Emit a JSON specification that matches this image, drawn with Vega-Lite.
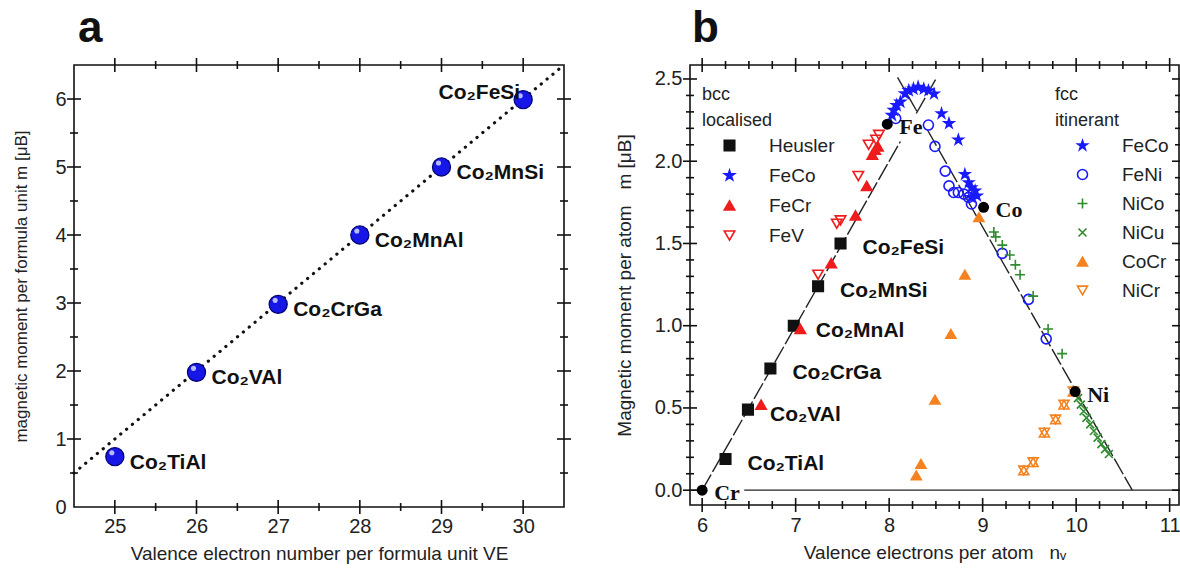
{
  "$schema": "https://vega.github.io/schema/vega-lite/v6.json",
  "background": "white",
  "padding": {"left": 12, "top": 6, "right": 2, "bottom": 2},
  "spacing": 42,
  "config": {
    "view": {"stroke": "#111", "strokeWidth": 1.6},
    "axis": {"domain": false, "grid": false, "ticks": false, "labelFont": "Liberation Sans", "titleFont": "Liberation Sans", "labelColor": "#222", "titleColor": "#222", "labelFontSize": 20, "titleFontSize": 19, "titleFontWeight": "normal", "labelOverlap": false, "labelFlush": false},
    "text": {"font": "Liberation Sans"},
    "title": {"font": "Liberation Sans"}
  },
  "datasets": {
    "ticksAx": [
      {"v": 25, "kind": "major"}, {"v": 25.5, "kind": "minor"}, {"v": 26, "kind": "major"}, {"v": 26.5, "kind": "minor"},
      {"v": 27, "kind": "major"}, {"v": 27.5, "kind": "minor"}, {"v": 28, "kind": "major"}, {"v": 28.5, "kind": "minor"},
      {"v": 29, "kind": "major"}, {"v": 29.5, "kind": "minor"}, {"v": 30, "kind": "major"}
    ],
    "ticksAy": [
      {"v": 0.5, "kind": "minor"}, {"v": 1, "kind": "major"}, {"v": 1.5, "kind": "minor"}, {"v": 2, "kind": "major"},
      {"v": 2.5, "kind": "minor"}, {"v": 3, "kind": "major"}, {"v": 3.5, "kind": "minor"}, {"v": 4, "kind": "major"},
      {"v": 4.5, "kind": "minor"}, {"v": 5, "kind": "major"}, {"v": 5.5, "kind": "minor"}, {"v": 6, "kind": "major"}
    ],
    "ticksBx": [
      {"v": 6, "kind": "major"}, {"v": 6.25, "kind": "minor"}, {"v": 6.5, "kind": "minor"}, {"v": 6.75, "kind": "minor"},
      {"v": 7, "kind": "major"}, {"v": 7.25, "kind": "minor"}, {"v": 7.5, "kind": "minor"}, {"v": 7.75, "kind": "minor"},
      {"v": 8, "kind": "major"}, {"v": 8.25, "kind": "minor"}, {"v": 8.5, "kind": "minor"}, {"v": 8.75, "kind": "minor"},
      {"v": 9, "kind": "major"}, {"v": 9.25, "kind": "minor"}, {"v": 9.5, "kind": "minor"}, {"v": 9.75, "kind": "minor"},
      {"v": 10, "kind": "major"}, {"v": 10.25, "kind": "minor"}, {"v": 10.5, "kind": "minor"}, {"v": 10.75, "kind": "minor"},
      {"v": 11, "kind": "major"}
    ],
    "ticksBy": [
      {"v": 0, "kind": "major"}, {"v": 0.1, "kind": "minor"}, {"v": 0.2, "kind": "minor"}, {"v": 0.3, "kind": "minor"}, {"v": 0.4, "kind": "minor"},
      {"v": 0.5, "kind": "major"}, {"v": 0.6, "kind": "minor"}, {"v": 0.7, "kind": "minor"}, {"v": 0.8, "kind": "minor"}, {"v": 0.9, "kind": "minor"},
      {"v": 1.0, "kind": "major"}, {"v": 1.1, "kind": "minor"}, {"v": 1.2, "kind": "minor"}, {"v": 1.3, "kind": "minor"}, {"v": 1.4, "kind": "minor"},
      {"v": 1.5, "kind": "major"}, {"v": 1.6, "kind": "minor"}, {"v": 1.7, "kind": "minor"}, {"v": 1.8, "kind": "minor"}, {"v": 1.9, "kind": "minor"},
      {"v": 2.0, "kind": "major"}, {"v": 2.1, "kind": "minor"}, {"v": 2.2, "kind": "minor"}, {"v": 2.3, "kind": "minor"}, {"v": 2.4, "kind": "minor"},
      {"v": 2.5, "kind": "major"}
    ],
    "heuslerA": [
      {"VE": 25, "m": 0.74, "compound": "Co₂TiAl"},
      {"VE": 26, "m": 1.98, "compound": "Co₂VAl"},
      {"VE": 27, "m": 2.98, "compound": "Co₂CrGa"},
      {"VE": 28, "m": 4.0, "compound": "Co₂MnAl"},
      {"VE": 29, "m": 5.0, "compound": "Co₂MnSi"},
      {"VE": 30, "m": 5.99, "compound": "Co₂FeSi"}
    ],
    "slaterA": [{"VE": 24.5, "m": 0.5}, {"VE": 30.5, "m": 6.5}],
    "linesB": [
      {"seg": "Z1", "kind": "zero", "nv": 5.87, "m": 0},
      {"seg": "Z1", "kind": "zero", "nv": 5.99, "m": 0},
      {"seg": "Z2", "kind": "zero", "nv": 6.45, "m": 0},
      {"seg": "Z2", "kind": "zero", "nv": 11.1, "m": 0},
      {"seg": "L1", "kind": "sp", "nv": 6.0, "m": 0.0},
      {"seg": "L1", "kind": "sp", "nv": 8.12, "m": 2.12},
      {"seg": "L2", "kind": "sp", "nv": 8.29, "m": 2.29},
      {"seg": "L2", "kind": "sp", "nv": 8.5, "m": 2.5},
      {"seg": "R1", "kind": "sp", "nv": 8.41, "m": 2.19},
      {"seg": "R1", "kind": "sp", "nv": 10.6, "m": 0.0},
      {"seg": "R2", "kind": "sp", "nv": 8.09, "m": 2.51},
      {"seg": "R2", "kind": "sp", "nv": 8.31, "m": 2.29}
    ],
    "elementsB": [
      {"el": "Cr", "nv": 6.0, "m": 0.0},
      {"el": "Fe", "nv": 7.98, "m": 2.225},
      {"el": "Co", "nv": 9.01, "m": 1.72},
      {"el": "Ni", "nv": 9.99, "m": 0.6}
    ],
    "pointsB": [
      {"phase": "bcc", "series": "Heusler", "nv": 6.25, "m": 0.19, "label": "Co₂TiAl"},
      {"phase": "bcc", "series": "Heusler", "nv": 6.49, "m": 0.49, "label": "Co₂VAl"},
      {"phase": "bcc", "series": "Heusler", "nv": 6.73, "m": 0.74, "label": "Co₂CrGa"},
      {"phase": "bcc", "series": "Heusler", "nv": 6.98, "m": 1.0, "label": "Co₂MnAl"},
      {"phase": "bcc", "series": "Heusler", "nv": 7.24, "m": 1.24, "label": "Co₂MnSi"},
      {"phase": "bcc", "series": "Heusler", "nv": 7.48, "m": 1.5, "label": "Co₂FeSi"},
      {"phase": "bcc", "series": "FeCo", "nv": 8.03, "m": 2.28},
      {"phase": "bcc", "series": "FeCo", "nv": 8.05, "m": 2.31},
      {"phase": "bcc", "series": "FeCo", "nv": 8.08, "m": 2.34},
      {"phase": "bcc", "series": "FeCo", "nv": 8.12, "m": 2.36},
      {"phase": "bcc", "series": "FeCo", "nv": 8.17, "m": 2.41},
      {"phase": "bcc", "series": "FeCo", "nv": 8.21, "m": 2.43},
      {"phase": "bcc", "series": "FeCo", "nv": 8.26, "m": 2.44},
      {"phase": "bcc", "series": "FeCo", "nv": 8.31, "m": 2.45},
      {"phase": "bcc", "series": "FeCr", "nv": 6.63, "m": 0.52},
      {"phase": "bcc", "series": "FeCr", "nv": 7.05, "m": 0.98},
      {"phase": "bcc", "series": "FeCr", "nv": 7.38, "m": 1.38},
      {"phase": "bcc", "series": "FeCr", "nv": 7.64, "m": 1.67},
      {"phase": "bcc", "series": "FeCr", "nv": 7.76, "m": 1.85},
      {"phase": "bcc", "series": "FeCr", "nv": 7.82, "m": 2.04},
      {"phase": "bcc", "series": "FeCr", "nv": 7.85, "m": 2.07},
      {"phase": "bcc", "series": "FeCr", "nv": 7.88, "m": 2.09},
      {"phase": "bcc", "series": "FeV", "nv": 7.24, "m": 1.31},
      {"phase": "bcc", "series": "FeV", "nv": 7.44, "m": 1.62},
      {"phase": "bcc", "series": "FeV", "nv": 7.48, "m": 1.64},
      {"phase": "bcc", "series": "FeV", "nv": 7.67, "m": 1.91},
      {"phase": "bcc", "series": "FeV", "nv": 7.78, "m": 2.1},
      {"phase": "bcc", "series": "FeV", "nv": 7.86, "m": 2.13},
      {"phase": "bcc", "series": "FeV", "nv": 7.89, "m": 2.16},
      {"phase": "fcc", "series": "FeCo", "nv": 8.37, "m": 2.44},
      {"phase": "fcc", "series": "FeCo", "nv": 8.42, "m": 2.43},
      {"phase": "fcc", "series": "FeCo", "nv": 8.48, "m": 2.41},
      {"phase": "fcc", "series": "FeCo", "nv": 8.56, "m": 2.29},
      {"phase": "fcc", "series": "FeCo", "nv": 8.64, "m": 2.23},
      {"phase": "fcc", "series": "FeCo", "nv": 8.74, "m": 2.13},
      {"phase": "fcc", "series": "FeCo", "nv": 8.81, "m": 1.92},
      {"phase": "fcc", "series": "FeCo", "nv": 8.85, "m": 1.87},
      {"phase": "fcc", "series": "FeCo", "nv": 8.88, "m": 1.84},
      {"phase": "fcc", "series": "FeCo", "nv": 8.92, "m": 1.82},
      {"phase": "fcc", "series": "FeCo", "nv": 8.88, "m": 1.78},
      {"phase": "fcc", "series": "FeCo", "nv": 8.94, "m": 1.79},
      {"phase": "fcc", "series": "FeNi", "nv": 8.07, "m": 2.26},
      {"phase": "fcc", "series": "FeNi", "nv": 8.42, "m": 2.22},
      {"phase": "fcc", "series": "FeNi", "nv": 8.49, "m": 2.09},
      {"phase": "fcc", "series": "FeNi", "nv": 8.6, "m": 1.94},
      {"phase": "fcc", "series": "FeNi", "nv": 8.64, "m": 1.85},
      {"phase": "fcc", "series": "FeNi", "nv": 8.69, "m": 1.81},
      {"phase": "fcc", "series": "FeNi", "nv": 8.74, "m": 1.81},
      {"phase": "fcc", "series": "FeNi", "nv": 8.8, "m": 1.8},
      {"phase": "fcc", "series": "FeNi", "nv": 8.85, "m": 1.78},
      {"phase": "fcc", "series": "FeNi", "nv": 8.88, "m": 1.74},
      {"phase": "fcc", "series": "FeNi", "nv": 9.21, "m": 1.44},
      {"phase": "fcc", "series": "FeNi", "nv": 9.49, "m": 1.16},
      {"phase": "fcc", "series": "FeNi", "nv": 9.68, "m": 0.92},
      {"phase": "fcc", "series": "NiCo", "nv": 9.12, "m": 1.57},
      {"phase": "fcc", "series": "NiCo", "nv": 9.14, "m": 1.54},
      {"phase": "fcc", "series": "NiCo", "nv": 9.21, "m": 1.49},
      {"phase": "fcc", "series": "NiCo", "nv": 9.29, "m": 1.43},
      {"phase": "fcc", "series": "NiCo", "nv": 9.35, "m": 1.37},
      {"phase": "fcc", "series": "NiCo", "nv": 9.4, "m": 1.31},
      {"phase": "fcc", "series": "NiCo", "nv": 9.54, "m": 1.18},
      {"phase": "fcc", "series": "NiCo", "nv": 9.7, "m": 0.98},
      {"phase": "fcc", "series": "NiCo", "nv": 9.85, "m": 0.83},
      {"phase": "fcc", "series": "NiCu", "nv": 10.02, "m": 0.56},
      {"phase": "fcc", "series": "NiCu", "nv": 10.05, "m": 0.52},
      {"phase": "fcc", "series": "NiCu", "nv": 10.08, "m": 0.48},
      {"phase": "fcc", "series": "NiCu", "nv": 10.11, "m": 0.44},
      {"phase": "fcc", "series": "NiCu", "nv": 10.15, "m": 0.4},
      {"phase": "fcc", "series": "NiCu", "nv": 10.19, "m": 0.36},
      {"phase": "fcc", "series": "NiCu", "nv": 10.23, "m": 0.32},
      {"phase": "fcc", "series": "NiCu", "nv": 10.27, "m": 0.28},
      {"phase": "fcc", "series": "NiCu", "nv": 10.31, "m": 0.25},
      {"phase": "fcc", "series": "NiCu", "nv": 10.35, "m": 0.22},
      {"phase": "fcc", "series": "CoCr", "nv": 8.29, "m": 0.09},
      {"phase": "fcc", "series": "CoCr", "nv": 8.34, "m": 0.16},
      {"phase": "fcc", "series": "CoCr", "nv": 8.49, "m": 0.55},
      {"phase": "fcc", "series": "CoCr", "nv": 8.66, "m": 0.95},
      {"phase": "fcc", "series": "CoCr", "nv": 8.81, "m": 1.31},
      {"phase": "fcc", "series": "CoCr", "nv": 8.96, "m": 1.66},
      {"phase": "fcc", "series": "NiCr", "nv": 9.44, "m": 0.12},
      {"phase": "fcc", "series": "NiCr", "nv": 9.54, "m": 0.17},
      {"phase": "fcc", "series": "NiCr", "nv": 9.66, "m": 0.35},
      {"phase": "fcc", "series": "NiCr", "nv": 9.78, "m": 0.43},
      {"phase": "fcc", "series": "NiCr", "nv": 9.87, "m": 0.52},
      {"phase": "fcc", "series": "NiCr", "nv": 9.97, "m": 0.6}
    ]
  },
  "resolve": {"scale": {"x": "independent", "y": "independent"}},
  "hconcat": [
    {
      "width": 490,
      "height": 442,
      "title": {"text": "a", "anchor": "start", "frame": "group", "fontSize": 44, "fontWeight": "bold", "color": "#111", "dx": 4, "offset": 7},
      "resolve": {"axis": {"x": "independent", "y": "independent"}},
      "layer": [
        {
          "data": {"name": "slaterA"},
          "mark": {"type": "line", "color": "#111", "strokeWidth": 3.2, "strokeDash": [0.1, 7.5], "strokeCap": "round"},
          "encoding": {
            "x": {"field": "VE", "type": "quantitative", "scale": {"domain": [24.5, 30.5], "nice": false, "zero": false}, "axis": null},
            "y": {"field": "m", "type": "quantitative", "scale": {"domain": [0, 6.5], "nice": false, "zero": false}, "axis": null}
          }
        },
        {
          "data": {"name": "heuslerA"},
          "mark": {"type": "point", "filled": true, "opacity": 1, "size": 330, "fill": "#1616e6", "stroke": "#00006e", "strokeWidth": 1.2},
          "encoding": {
            "x": {"field": "VE", "type": "quantitative", "scale": {"domain": [24.5, 30.5], "nice": false, "zero": false},
                  "axis": {"orient": "bottom", "values": [25, 26, 27, 28, 29, 30], "format": "d", "labelPadding": 9, "title": "Valence electron number per formula unit VE", "titlePadding": 8}},
            "y": {"field": "m", "type": "quantitative", "scale": {"domain": [0, 6.5], "nice": false, "zero": false},
                  "axis": {"orient": "left", "values": [0, 1, 2, 3, 4, 5, 6], "format": "d", "labelPadding": 8, "title": "magnetic moment per formula unit m [μB]", "titleFontSize": 17, "titlePadding": 24}}
          }
        },
        {
          "data": {"name": "heuslerA"},
          "mark": {"type": "point", "filled": true, "opacity": 0.8, "size": 26, "color": "#dfe6ff", "xOffset": -3, "yOffset": -4},
          "encoding": {
            "x": {"field": "VE", "type": "quantitative", "axis": null},
            "y": {"field": "m", "type": "quantitative", "axis": null}
          }
        },
        {
          "data": {"name": "heuslerA"},
          "transform": [{"filter": "datum.VE < 30"}],
          "mark": {"type": "text", "align": "left", "baseline": "middle", "dx": 15, "dy": 6, "fontSize": 21, "fontWeight": "bold", "color": "#111"},
          "encoding": {
            "x": {"field": "VE", "type": "quantitative", "axis": null},
            "y": {"field": "m", "type": "quantitative", "axis": null},
            "text": {"field": "compound"}
          }
        },
        {
          "data": {"name": "heuslerA"},
          "transform": [{"filter": "datum.VE >= 30"}],
          "mark": {"type": "text", "align": "right", "baseline": "middle", "dx": -3, "dy": -7, "fontSize": 21, "fontWeight": "bold", "color": "#111"},
          "encoding": {
            "x": {"field": "VE", "type": "quantitative", "axis": null},
            "y": {"field": "m", "type": "quantitative", "axis": null},
            "text": {"field": "compound"}
          }
        },
        {
          "data": {"name": "ticksAx"},
          "mark": {"type": "tick", "orient": "vertical", "thickness": 1.6, "color": "#111", "opacity": 1},
          "encoding": {
            "x": {"field": "v", "type": "quantitative", "axis": null},
            "y": {"datum": 0, "type": "quantitative", "axis": null},
            "size": {"field": "kind", "type": "nominal", "scale": {"domain": ["major", "minor"], "range": [14, 8]}, "legend": null}
          }
        },
        {
          "data": {"name": "ticksAx"},
          "mark": {"type": "tick", "orient": "vertical", "thickness": 1.6, "color": "#111", "opacity": 1},
          "encoding": {
            "x": {"field": "v", "type": "quantitative", "axis": null},
            "y": {"datum": 6.5, "type": "quantitative", "axis": null},
            "size": {"field": "kind", "type": "nominal", "scale": {"domain": ["major", "minor"], "range": [14, 8]}, "legend": null}
          }
        },
        {
          "data": {"name": "ticksAy"},
          "mark": {"type": "tick", "orient": "horizontal", "thickness": 1.6, "color": "#111", "opacity": 1},
          "encoding": {
            "y": {"field": "v", "type": "quantitative", "axis": null},
            "x": {"datum": 24.5, "type": "quantitative", "axis": null},
            "size": {"field": "kind", "type": "nominal", "scale": {"domain": ["major", "minor"], "range": [14, 8]}, "legend": null}
          }
        },
        {
          "data": {"name": "ticksAy"},
          "mark": {"type": "tick", "orient": "horizontal", "thickness": 1.6, "color": "#111", "opacity": 1},
          "encoding": {
            "y": {"field": "v", "type": "quantitative", "axis": null},
            "x": {"datum": 30.5, "type": "quantitative", "axis": null},
            "size": {"field": "kind", "type": "nominal", "scale": {"domain": ["major", "minor"], "range": [14, 8]}, "legend": null}
          }
        }
      ]
    },
    {
      "width": 489,
      "height": 440,
      "title": {"text": "b", "anchor": "start", "frame": "group", "fontSize": 44, "fontWeight": "bold", "color": "#111", "dx": 2, "offset": 7},
      "resolve": {
        "scale": {"shape": "independent", "fill": "independent", "stroke": "independent"},
        "axis": {"x": "independent", "y": "independent"}
      },
      "layer": [
        {
          "data": {"name": "linesB"},
          "transform": [{"filter": "datum.kind === 'zero'"}],
          "mark": {"type": "line", "color": "#222", "strokeWidth": 1.3},
          "encoding": {
            "x": {"field": "nv", "type": "quantitative", "scale": {"domain": [5.87, 11.1], "nice": false, "zero": false}, "axis": null},
            "y": {"field": "m", "type": "quantitative", "scale": {"domain": [-0.09, 2.585], "nice": false, "zero": false}, "axis": null},
            "detail": {"field": "seg"}
          }
        },
        {
          "data": {"name": "linesB"},
          "transform": [{"filter": "datum.kind === 'sp'"}],
          "mark": {"type": "line", "color": "#222", "strokeWidth": 1.4, "strokeDash": [18, 3]},
          "encoding": {
            "x": {"field": "nv", "type": "quantitative", "axis": null},
            "y": {"field": "m", "type": "quantitative", "axis": null},
            "detail": {"field": "seg"}
          }
        },
        {
          "data": {"name": "pointsB"},
          "transform": [{"filter": "datum.phase === 'bcc'"}],
          "mark": {"type": "point", "filled": true, "opacity": 1, "size": 110, "strokeWidth": 1.6},
          "encoding": {
            "x": {"field": "nv", "type": "quantitative", "scale": {"domain": [5.87, 11.1], "nice": false, "zero": false},
                  "axis": {"orient": "bottom", "values": [6, 7, 8, 9, 10, 11], "format": "d", "labelPadding": 10, "title": "Valence electrons per atom\u00a0\u00a0\u00a0nᵥ", "titlePadding": 8}},
            "y": {"field": "m", "type": "quantitative", "scale": {"domain": [-0.09, 2.585], "nice": false, "zero": false},
                  "axis": {"orient": "left", "values": [0, 0.5, 1, 1.5, 2, 2.5], "format": ".1f", "labelPadding": 8, "title": "Magnetic moment per atom\u00a0\u00a0\u00a0m [μB]", "titlePadding": 20}},
            "shape": {"field": "series", "type": "nominal",
                      "scale": {"domain": ["Heusler", "FeCo", "FeCr", "FeV"], "range": ["square", "M0,-1L0.2245,-0.309L0.951,-0.309L0.363,0.118L0.588,0.809L0,0.382L-0.588,0.809L-0.363,0.118L-0.951,-0.309L-0.2245,-0.309Z", "triangle-up", "triangle-down"]},
                      "legend": {"title": ["bcc", "localised"], "orient": "none", "legendX": 12, "legendY": 21, "symbolSize": 110, "symbolStrokeWidth": 1.6, "labelFont": "Liberation Sans", "labelFontSize": 19, "labelColor": "#222", "titleFont": "Liberation Sans", "titleFontSize": 18, "titleFontWeight": "normal", "titleColor": "#222", "titleLineHeight": 26, "titlePadding": 6, "rowPadding": 10, "symbolOffset": 18, "labelOffset": 30, "padding": 0}},
            "fill": {"field": "series", "type": "nominal",
                     "scale": {"domain": ["Heusler", "FeCo", "FeCr", "FeV"], "range": ["#111111", "#1a1aff", "#ee1c1c", "transparent"]},
                     "legend": {"title": ["bcc", "localised"], "orient": "none", "legendX": 12, "legendY": 21, "symbolSize": 110, "symbolStrokeWidth": 1.6, "labelFont": "Liberation Sans", "labelFontSize": 19, "labelColor": "#222", "titleFont": "Liberation Sans", "titleFontSize": 18, "titleFontWeight": "normal", "titleColor": "#222", "titleLineHeight": 26, "titlePadding": 6, "rowPadding": 10, "symbolOffset": 18, "labelOffset": 30, "padding": 0}},
            "stroke": {"field": "series", "type": "nominal",
                       "scale": {"domain": ["Heusler", "FeCo", "FeCr", "FeV"], "range": ["#111111", "#1a1aff", "#ee1c1c", "#ee1c1c"]},
                       "legend": {"title": ["bcc", "localised"], "orient": "none", "legendX": 12, "legendY": 21, "symbolSize": 110, "symbolStrokeWidth": 1.6, "labelFont": "Liberation Sans", "labelFontSize": 19, "labelColor": "#222", "titleFont": "Liberation Sans", "titleFontSize": 18, "titleFontWeight": "normal", "titleColor": "#222", "titleLineHeight": 26, "titlePadding": 6, "rowPadding": 10, "symbolOffset": 18, "labelOffset": 30, "padding": 0}}
          }
        },
        {
          "data": {"name": "pointsB"},
          "transform": [{"filter": "datum.phase === 'fcc'"}],
          "mark": {"type": "point", "filled": true, "opacity": 1, "size": 100, "strokeWidth": 1.6},
          "encoding": {
            "x": {"field": "nv", "type": "quantitative", "axis": null},
            "y": {"field": "m", "type": "quantitative", "axis": null},
            "shape": {"field": "series", "type": "nominal",
                      "scale": {"domain": ["FeCo", "FeNi", "NiCo", "NiCu", "CoCr", "NiCr"], "range": ["M0,-1L0.2245,-0.309L0.951,-0.309L0.363,0.118L0.588,0.809L0,0.382L-0.588,0.809L-0.363,0.118L-0.951,-0.309L-0.2245,-0.309Z", "circle", "M-1,0L1,0M0,-1L0,1", "M-0.8,-0.8L0.8,0.8M-0.8,0.8L0.8,-0.8", "triangle-up", "triangle-down"]},
                      "legend": {"title": ["fcc", "itinerant"], "orient": "none", "legendX": 365, "legendY": 21, "symbolSize": 100, "symbolStrokeWidth": 1.6, "labelFont": "Liberation Sans", "labelFontSize": 19, "labelColor": "#222", "titleFont": "Liberation Sans", "titleFontSize": 18, "titleFontWeight": "normal", "titleColor": "#222", "titleLineHeight": 26, "titlePadding": 6, "rowPadding": 9, "symbolOffset": 18, "labelOffset": 30, "padding": 0}},
            "fill": {"field": "series", "type": "nominal",
                     "scale": {"domain": ["FeCo", "FeNi", "NiCo", "NiCu", "CoCr", "NiCr"], "range": ["#1a1aff", "transparent", "transparent", "transparent", "#f5821f", "transparent"]},
                     "legend": {"title": ["fcc", "itinerant"], "orient": "none", "legendX": 365, "legendY": 21, "symbolSize": 100, "symbolStrokeWidth": 1.6, "labelFont": "Liberation Sans", "labelFontSize": 19, "labelColor": "#222", "titleFont": "Liberation Sans", "titleFontSize": 18, "titleFontWeight": "normal", "titleColor": "#222", "titleLineHeight": 26, "titlePadding": 6, "rowPadding": 9, "symbolOffset": 18, "labelOffset": 30, "padding": 0}},
            "stroke": {"field": "series", "type": "nominal",
                       "scale": {"domain": ["FeCo", "FeNi", "NiCo", "NiCu", "CoCr", "NiCr"], "range": ["#1a1aff", "#1a1aff", "#2e8b2e", "#2e8b2e", "#f5821f", "#f5821f"]},
                       "legend": {"title": ["fcc", "itinerant"], "orient": "none", "legendX": 365, "legendY": 21, "symbolSize": 100, "symbolStrokeWidth": 1.6, "labelFont": "Liberation Sans", "labelFontSize": 19, "labelColor": "#222", "titleFont": "Liberation Sans", "titleFontSize": 18, "titleFontWeight": "normal", "titleColor": "#222", "titleLineHeight": 26, "titlePadding": 6, "rowPadding": 9, "symbolOffset": 18, "labelOffset": 30, "padding": 0}}
          }
        },
        {
          "data": {"name": "pointsB"},
          "transform": [{"filter": "datum.series === 'NiCr'"}],
          "mark": {"type": "point", "shape": "triangle-up", "filled": false, "opacity": 1, "size": 100, "strokeWidth": 1.6, "color": "#f5821f"},
          "encoding": {
            "x": {"field": "nv", "type": "quantitative", "axis": null},
            "y": {"field": "m", "type": "quantitative", "axis": null}
          }
        },
        {
          "data": {"name": "elementsB"},
          "mark": {"type": "point", "shape": "circle", "filled": true, "opacity": 1, "size": 120, "color": "#000"},
          "encoding": {
            "x": {"field": "nv", "type": "quantitative", "axis": null},
            "y": {"field": "m", "type": "quantitative", "axis": null}
          }
        },
        {
          "data": {"name": "elementsB"},
          "mark": {"type": "text", "align": "left", "baseline": "middle", "dx": 12, "dy": 3, "font": "Liberation Serif", "fontSize": 22, "fontWeight": "bold", "color": "#111"},
          "encoding": {
            "x": {"field": "nv", "type": "quantitative", "axis": null},
            "y": {"field": "m", "type": "quantitative", "axis": null},
            "text": {"field": "el"}
          }
        },
        {
          "data": {"name": "pointsB"},
          "transform": [{"filter": "datum.series === 'Heusler'"}],
          "mark": {"type": "text", "align": "left", "baseline": "middle", "dx": 22, "dy": 5, "fontSize": 21, "fontWeight": "bold", "color": "#111"},
          "encoding": {
            "x": {"field": "nv", "type": "quantitative", "axis": null},
            "y": {"field": "m", "type": "quantitative", "axis": null},
            "text": {"field": "label"}
          }
        },
        {
          "data": {"name": "ticksBx"},
          "mark": {"type": "tick", "orient": "vertical", "thickness": 1.6, "color": "#111", "opacity": 1},
          "encoding": {
            "x": {"field": "v", "type": "quantitative", "axis": null},
            "y": {"datum": -0.09, "type": "quantitative", "axis": null},
            "size": {"field": "kind", "type": "nominal", "scale": {"domain": ["major", "minor"], "range": [14, 8]}, "legend": null}
          }
        },
        {
          "data": {"name": "ticksBx"},
          "mark": {"type": "tick", "orient": "vertical", "thickness": 1.6, "color": "#111", "opacity": 1},
          "encoding": {
            "x": {"field": "v", "type": "quantitative", "axis": null},
            "y": {"datum": 2.585, "type": "quantitative", "axis": null},
            "size": {"field": "kind", "type": "nominal", "scale": {"domain": ["major", "minor"], "range": [14, 8]}, "legend": null}
          }
        },
        {
          "data": {"name": "ticksBy"},
          "mark": {"type": "tick", "orient": "horizontal", "thickness": 1.6, "color": "#111", "opacity": 1},
          "encoding": {
            "y": {"field": "v", "type": "quantitative", "axis": null},
            "x": {"datum": 5.87, "type": "quantitative", "axis": null},
            "size": {"field": "kind", "type": "nominal", "scale": {"domain": ["major", "minor"], "range": [14, 8]}, "legend": null}
          }
        },
        {
          "data": {"name": "ticksBy"},
          "mark": {"type": "tick", "orient": "horizontal", "thickness": 1.6, "color": "#111", "opacity": 1},
          "encoding": {
            "y": {"field": "v", "type": "quantitative", "axis": null},
            "x": {"datum": 11.1, "type": "quantitative", "axis": null},
            "size": {"field": "kind", "type": "nominal", "scale": {"domain": ["major", "minor"], "range": [14, 8]}, "legend": null}
          }
        }
      ]
    }
  ]
}
